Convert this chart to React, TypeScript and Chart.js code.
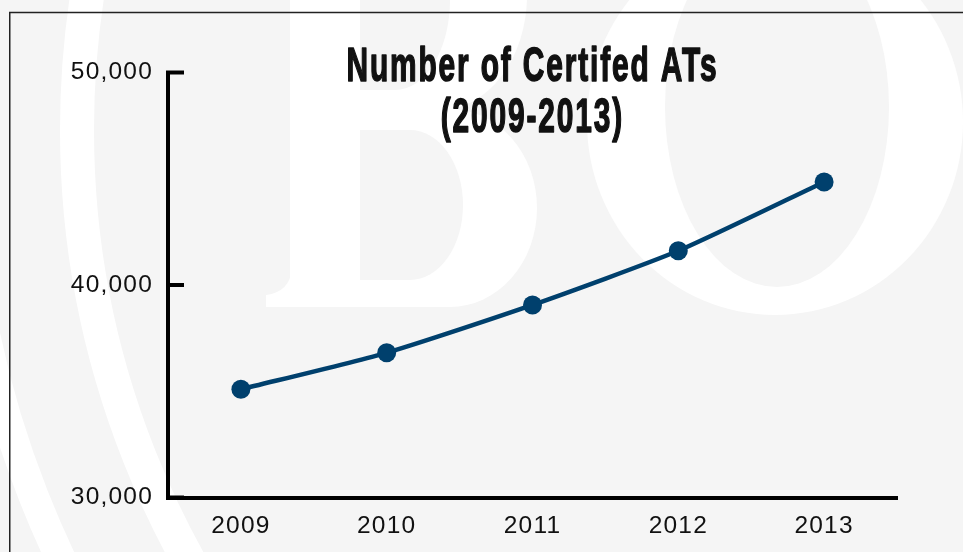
import React, { useEffect, useRef } from "react";
import { Chart, registerables } from "chart.js";

Chart.register(...registerables);

// ---- data ----
const years = ["2009", "2010", "2011", "2012", "2013"];
const certifiedATs = [35090, 36810, 39060, 41610, 44850];
const yMin = 30000;
const yMax = 50000;
const yStep = 10000;
const titleLines = ["Number of Certifed ATs", "(2009-2013)"];

// ---- styles ----
const BG = "#f5f5f5";
const WHITE = "#ffffff";
const NAVY = "#00406d";
const INK = "#111111";
const TICK_FONT = '"Liberation Sans", Arial, Helvetica, sans-serif';

function halfBowl(ctx: any, x0: number, cx: number, cy: number, rx: number, ry: number) {
  ctx.beginPath();
  ctx.moveTo(x0, cy - ry);
  ctx.lineTo(cx, cy - ry);
  ctx.ellipse(cx, cy, rx, ry, 0, -Math.PI / 2, Math.PI / 2);
  ctx.lineTo(x0, cy + ry);
  ctx.closePath();
  ctx.fill();
}

const backgroundPlugin = {
  id: "bgWatermark",
  beforeDraw(chart: any) {
    const { ctx, width, height } = chart;
    ctx.save();
    ctx.fillStyle = BG;
    ctx.fillRect(0, 0, width, height);

    // seal rings
    ctx.strokeStyle = WHITE;
    ctx.lineWidth = 34;
    ctx.beginPath();
    ctx.arc(962, 130, 885, 0, Math.PI * 2);
    ctx.stroke();
    ctx.lineWidth = 30;
    ctx.beginPath();
    ctx.arc(962, 130, 998, 0, Math.PI * 2);
    ctx.stroke();

    // letter B (white body)
    ctx.fillStyle = WHITE;
    ctx.fillRect(290, -150, 70, 457);
    halfBowl(ctx, 290, 440, -5, 87, 115);
    halfBowl(ctx, 290, 450, 208, 87, 99);
    ctx.beginPath();
    ctx.moveTo(266, 307);
    ctx.lineTo(266, 295);
    ctx.quadraticCurveTo(290, 292, 292, 268);
    ctx.lineTo(292, 307);
    ctx.closePath();
    ctx.fill();

    // letter O (white body)
    ctx.beginPath();
    ctx.ellipse(775, 122, 188, 193, 0, 0, Math.PI * 2);
    ctx.fill();

    // counters
    ctx.fillStyle = BG;
    halfBowl(ctx, 360, 395, 0, 55, 90);
    halfBowl(ctx, 360, 410, 205, 53, 75);
    ctx.beginPath();
    ctx.ellipse(777, 107, 112, 180, 0, 0, Math.PI * 2);
    ctx.fill();

    // frame
    ctx.strokeStyle = "#222222";
    ctx.lineWidth = 1.5;
    ctx.strokeRect(9.75, 12.5, 2000, 2000);
    ctx.restore();

    (ctx as any).letterSpacing = "1.2px";
  },
};

const decorPlugin = {
  id: "decor",
  afterDraw(chart: any) {
    const { ctx, chartArea } = chart;
    const ys = chart.scales.y;
    ctx.save();
    (ctx as any).letterSpacing = "0px";
    // inward tick stubs on the y axis
    ctx.strokeStyle = "#000000";
    ctx.lineWidth = 4;
    ctx.lineCap = "butt";
    ys.ticks.forEach((t: any) => {
      const y = ys.getPixelForValue(t.value);
      ctx.beginPath();
      ctx.moveTo(chartArea.left - 2, y);
      ctx.lineTo(chartArea.left + 16, y);
      ctx.stroke();
    });

    // title
    const cx = (chartArea.left + chartArea.right) / 2 - 1;
    ctx.font = 'bold 48px "Liberation Sans", Arial, sans-serif';
    (ctx as any).letterSpacing = "3px";
    const w1 = ctx.measureText(titleLines[0]).width - 3;
    const sx = 370 / w1;
    ctx.textAlign = "center";
    ctx.textBaseline = "alphabetic";
    ctx.fillStyle = INK;
    ctx.strokeStyle = INK;
    ctx.lineWidth = 1.6;
    ctx.lineJoin = "round";
    titleLines.forEach((line, i) => {
      ctx.save();
      ctx.translate(cx + 1.5 * sx, chartArea.top + 8.5 + i * 51);
      ctx.scale(sx, 1);
      ctx.fillText(line, 0, 0);
      ctx.strokeText(line, 0, 0);
      ctx.restore();
    });
    ctx.restore();
  },
};

export default function App() {
  const canvasRef = useRef<HTMLCanvasElement | null>(null);

  useEffect(() => {
    document.body.style.margin = "0";
    document.body.style.background = BG;
    const canvas = canvasRef.current;
    if (!canvas) return;
    const chart = new Chart(canvas, {
      type: "line",
      data: {
        labels: years,
        datasets: [
          {
            label: "Certified ATs",
            data: certifiedATs,
            borderColor: NAVY,
            backgroundColor: NAVY,
            borderWidth: 4.5,
            pointRadius: 9.5,
            pointHoverRadius: 9.5,
            pointBackgroundColor: NAVY,
            pointBorderWidth: 0,
            tension: 0.2,
            fill: false,
          },
        ],
      },
      options: {
        responsive: false,
        animation: false,
        devicePixelRatio: 1,
        layout: { padding: { top: 72.5, right: 66, left: 0, bottom: 0 } },
        plugins: {
          legend: { display: false },
          title: { display: false },
          tooltip: { enabled: false },
        },
        scales: {
          x: {
            type: "category",
            offset: true,
            grid: { display: false, drawTicks: false },
            border: { display: true, color: "#000000", width: 4 },
            ticks: {
              color: INK,
              font: { family: TICK_FONT, size: 24.5 },
              padding: 14,
              maxRotation: 0,
            },
            afterFit: (s: any) => {
              s.height = 54.5;
            },
          },
          y: {
            type: "linear",
            min: yMin,
            max: yMax,
            grid: { display: false, drawTicks: false },
            border: { display: true, color: "#000000", width: 4 },
            ticks: {
              stepSize: yStep,
              color: INK,
              font: { family: TICK_FONT, size: 24.5 },
              padding: 15,
              callback: (v: any) => Number(v).toLocaleString("en-US"),
            },
            afterFit: (s: any) => {
              s.width = 168;
            },
          },
        },
      },
      plugins: [backgroundPlugin, decorPlugin],
    });
    return () => chart.destroy();
  }, []);

  return (
    <div style={{ position: "absolute", left: 0, top: 0, width: 963, height: 552 }}>
      <canvas
        ref={canvasRef}
        width={963}
        height={552}
        style={{ display: "block", width: 963, height: 552 }}
      />
    </div>
  );
}
